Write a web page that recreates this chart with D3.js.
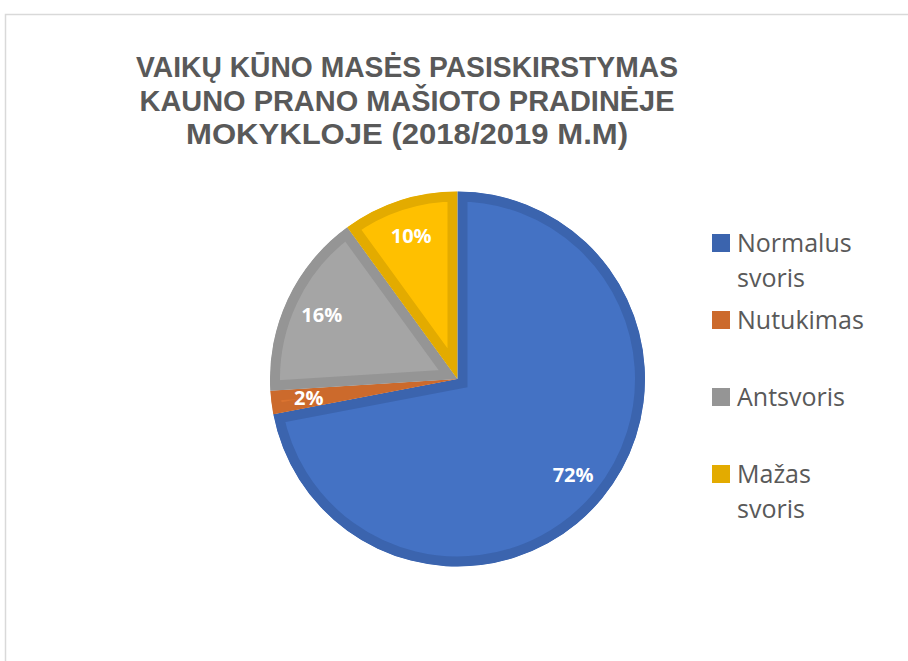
<!DOCTYPE html>
<html lang="lt">
  <head>
    <script src="https://d3js.org/d3.v7.min.js"></script>
    <meta charset="UTF-8" />
    <title>Vaikų kūno masės pasiskirstymas</title>
    <style>
      body { margin: 0; background: #fff; }
    </style>
  </head>
  <body>
    <svg width="908" height="661"></svg>
    <script>
      // data
      var categories = ["Normalus svoris", "Nutukimas", "Antsvoris", "Mažas svoris"];
      var values = [72, 2, 16, 10];
      var legendLines = [["Normalus", "svoris"], ["Nutukimas"], ["Antsvoris"], ["Mažas", "svoris"]];
      var titleLines = [
        "VAIKŲ KŪNO MASĖS PASISKIRSTYMAS",
        "KAUNO PRANO MAŠIOTO PRADINĖJE",
        "MOKYKLOJE (2018/2019 M.M)"
      ];

      var fills = ["#4472c4", "#da7330", "#a5a5a5", "#ffc000"];
      var edges = ["#3b64ae", "#cc6a2c", "#959595", "#e3ab00"];

      var svg = d3.select("svg");
      var font = "'Open Sans', 'Liberation Sans', sans-serif";

      // chart frame
      svg.append("path")
        .attr("d", "M5.5,661 L5.5,14.5 L908,14.5")
        .attr("fill", "none")
        .attr("stroke", "#d9d9d9")
        .attr("stroke-width", 1.5);

      // title
      var titleWidths = [542, 535, 442];
      svg.append("g").selectAll("text")
        .data(titleLines)
        .enter()
        .append("text")
        .attr("x", 407)
        .attr("y", function (d, i) { return 77 + i * 33.5; })
        .attr("text-anchor", "middle")
        .attr("font-family", "'Liberation Sans', Arial, sans-serif")
        .attr("font-weight", "bold")
        .attr("font-size", "29px")
        .attr("fill", "#595959")
        .attr("textLength", function (d, i) { return titleWidths[i]; })
        .attr("lengthAdjust", "spacingAndGlyphs")
        .text(function (d) { return d; });

      // pie
      var cx = 457.5, cy = 379, r = 187.5;
      var pie = d3.pie().sort(null).value(function (d) { return d; });
      var arc = d3.arc().innerRadius(0).outerRadius(r);
      var labelArc = d3.arc().innerRadius(r * 0.8).outerRadius(r * 0.8);
      var arcs = pie(values);

      var g = svg.append("g").attr("transform", "translate(" + cx + "," + cy + ")");
      var defs = svg.append("defs");
      defs.selectAll("clipPath")
        .data(arcs)
        .enter()
        .append("clipPath")
        .attr("id", function (d, i) { return "slice" + i; })
        .append("path")
        .attr("d", arc);

      g.selectAll(".slice")
        .data(arcs)
        .enter()
        .append("path")
        .attr("class", "slice")
        .attr("d", arc)
        .attr("clip-path", function (d, i) { return "url(#slice" + i + ")"; })
        .attr("fill", function (d, i) { return fills[i]; })
        .attr("stroke", function (d, i) { return edges[i]; })
        .attr("stroke-width", 20)
        .attr("stroke-linejoin", "miter");

      g.selectAll(".lbl")
        .data(arcs)
        .enter()
        .append("text")
        .attr("class", "lbl")
        .attr("transform", function (d) {
          var c = labelArc.centroid(d);
          return "translate(" + c[0] + "," + c[1] + ")";
        })
        .attr("text-anchor", "middle")
        .attr("dy", "0.35em")
        .attr("font-family", font)
        .attr("font-weight", "bold")
        .attr("font-size", "20px")
        .attr("fill", "#ffffff")
        .text(function (d) { return d.data + "%"; });

      // legend
      var legend = svg.append("g");
      var rowY = d3.scaleLinear().domain([0, 3]).range([252, 483]);
      var item = legend.selectAll(".item")
        .data(categories)
        .enter()
        .append("g")
        .attr("class", "item")
        .attr("transform", function (d, i) { return "translate(712," + rowY(i) + ")"; });

      item.append("rect")
        .attr("x", 0)
        .attr("y", -18)
        .attr("width", 18)
        .attr("height", 18)
        .attr("fill", function (d, i) { return edges[i]; });

      item.append("text")
        .attr("font-family", font)
        .attr("font-size", "25px")
        .attr("fill", "#595959")
        .selectAll("tspan")
        .data(function (d, i) { return legendLines[i]; })
        .enter()
        .append("tspan")
        .attr("x", 25)
        .attr("y", function (d, j) { return j * 35; })
        .text(function (d) { return d; });
    </script>
  </body>
</html>
